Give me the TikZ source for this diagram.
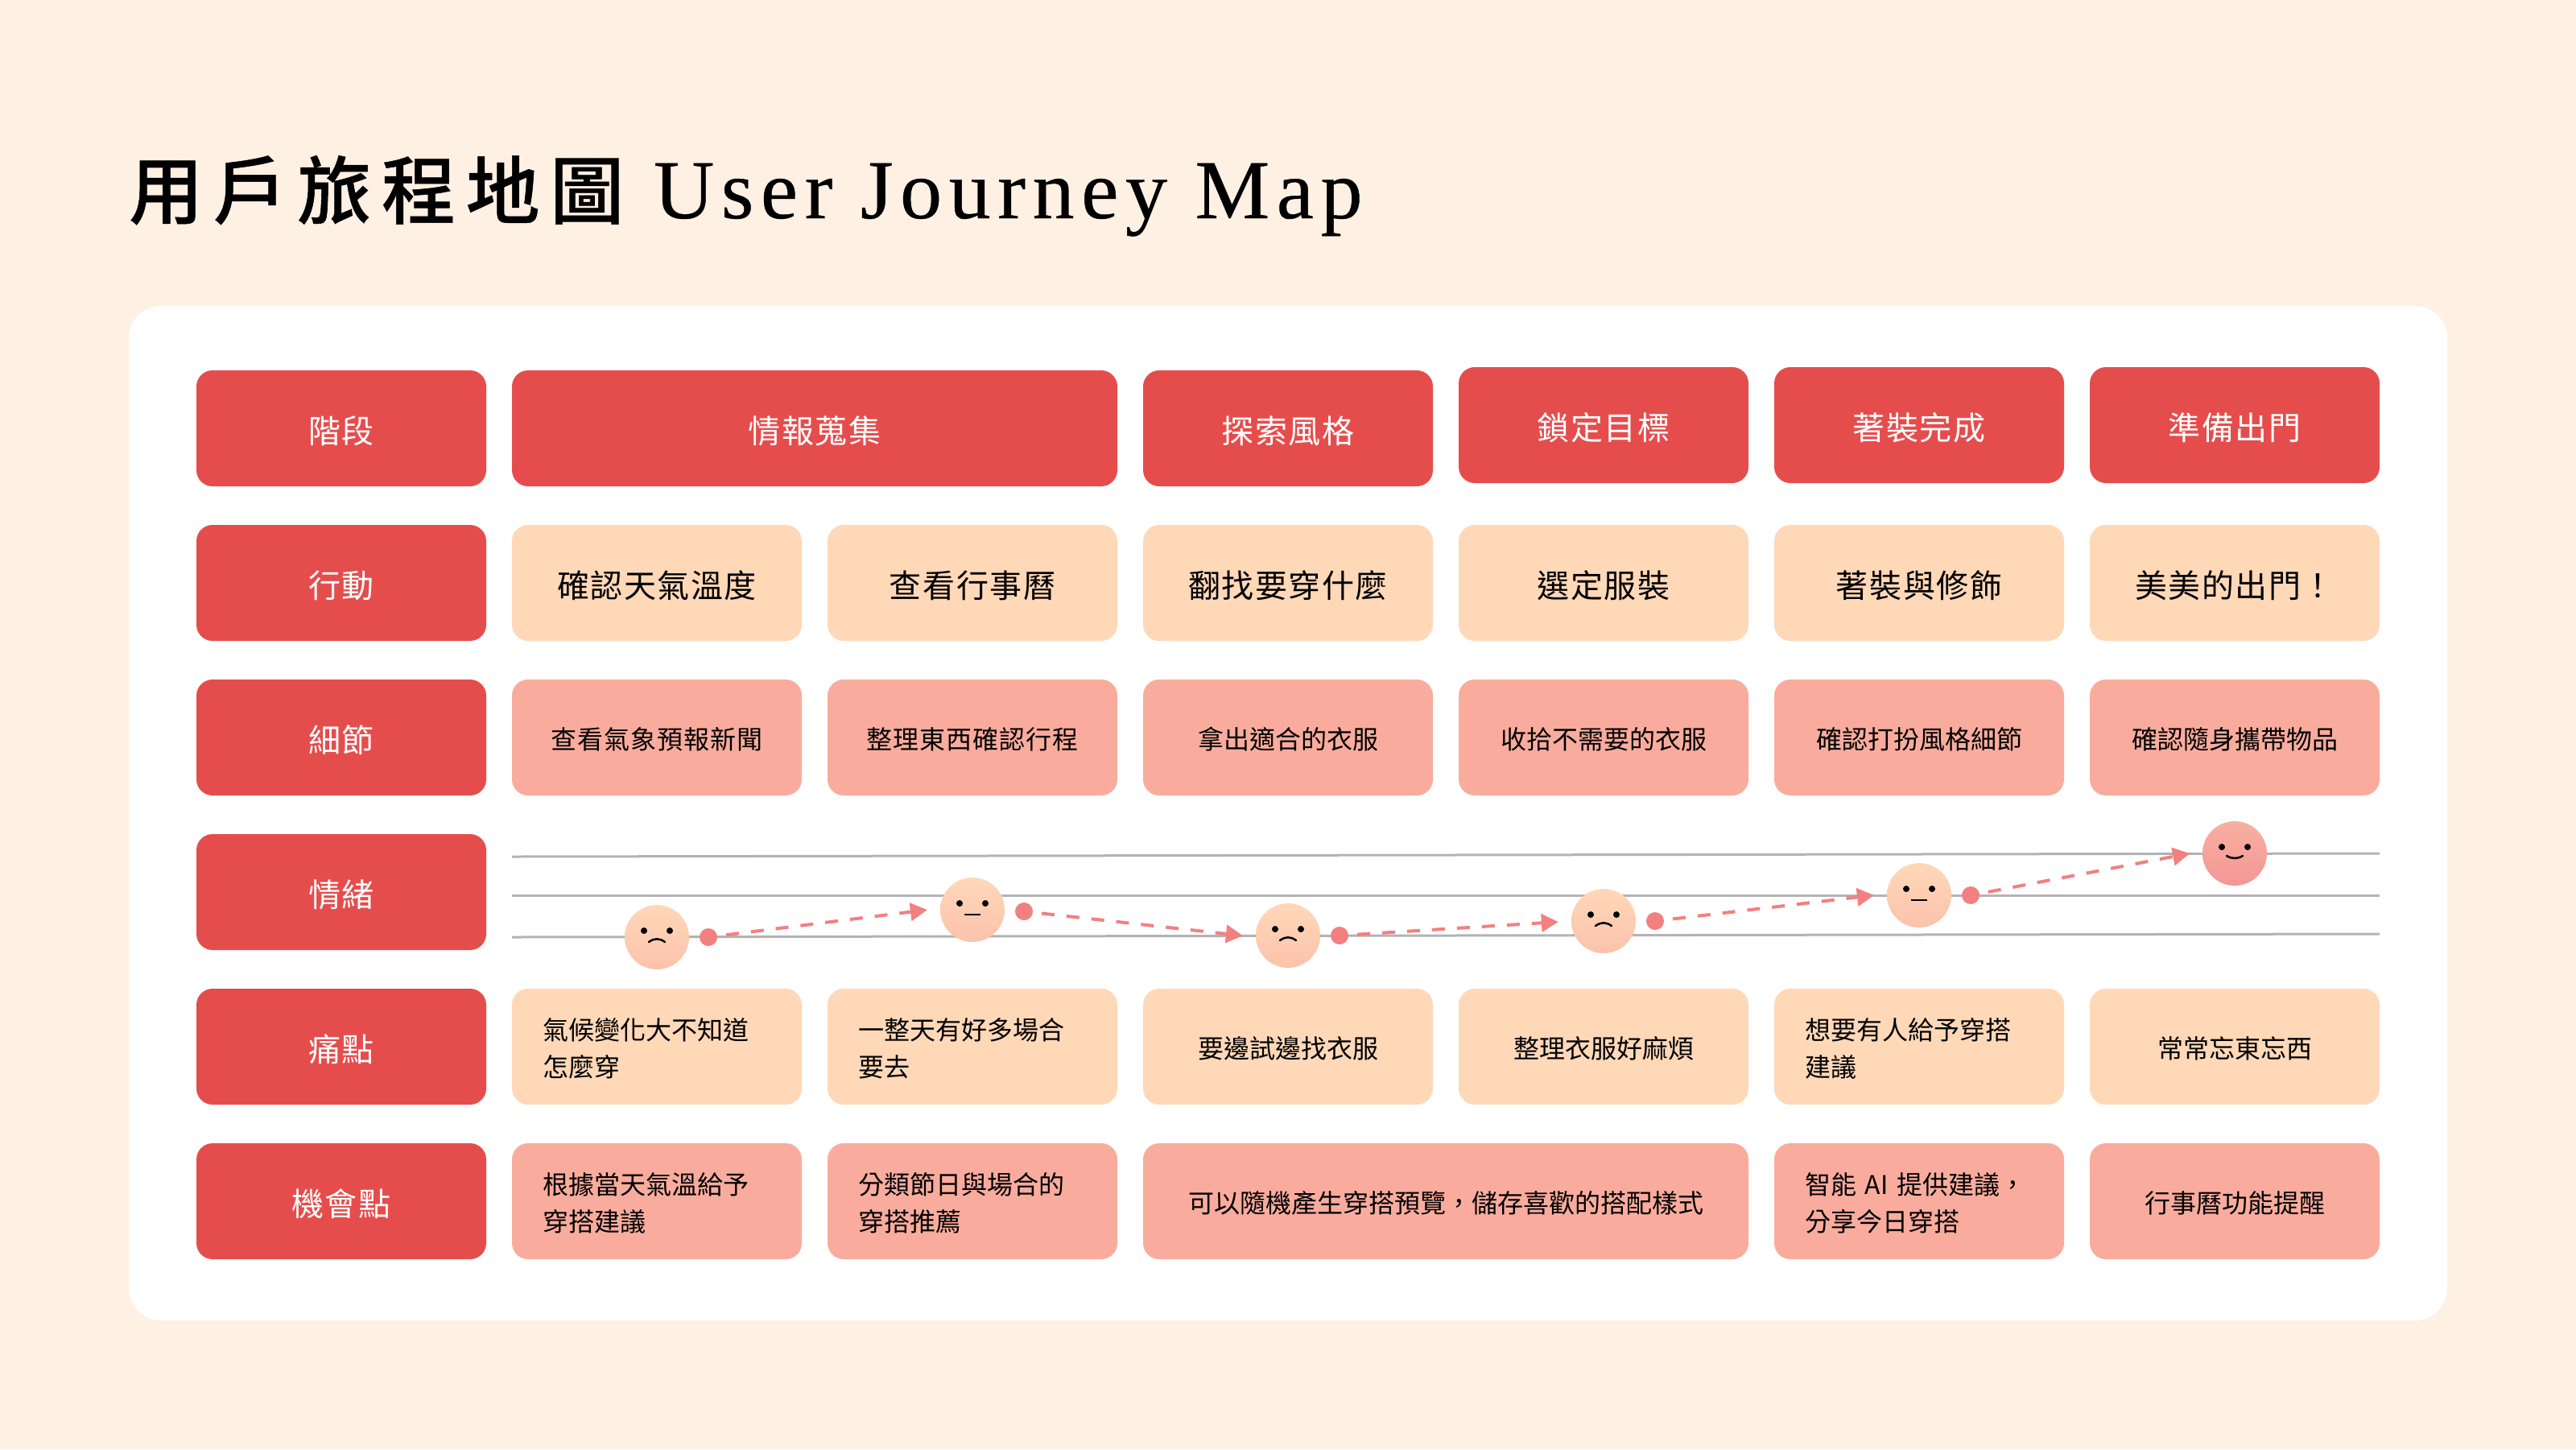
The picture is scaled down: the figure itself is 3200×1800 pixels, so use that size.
\documentclass[tikz,border=0pt]{standalone}
\usepackage{fontspec}
\usetikzlibrary{arrows.meta,shapes.geometric}
\setmainfont{Noto Sans CJK TC}
\newfontfamily\titlecjk[LetterSpace=13.7,FakeBold=0.6]{Noto Sans CJK TC Medium}
\newfontfamily\titlelat[LetterSpace=8.3,FakeBold=0.4]{Liberation Serif}
\newfontfamily\wideA[LetterSpace=4]{Noto Sans CJK TC}
\newfontfamily\wideB[LetterSpace=3.3]{Noto Sans CJK TC}
\definecolor{pagebg}{HTML}{FFF0E4}
\definecolor{redbox}{HTML}{E54D4D}
\definecolor{peach}{HTML}{FFD8B8}
\definecolor{salmon}{HTML}{F9AC9D}
\definecolor{coral}{HTML}{F28080}
\definecolor{rule}{HTML}{B3B3B3}
\definecolor{facelow}{HTML}{FCC2AC}
\definecolor{happytop}{HTML}{F8B0A0}
\definecolor{happylow}{HTML}{F49696}
\newcommand{\strutL}{\rule[-8pt]{0pt}{52pt}}
\newcommand{\strutS}{\rule[-7pt]{0pt}{42pt}}
\tikzset{
  cell/.style={rectangle,rounded corners=20pt,minimum width=360pt,minimum height=144pt,inner sep=0pt,align=center,text width=360pt,
    execute at begin node=\strutS,execute at end node=\strutS},
  wide/.style={minimum width=752pt,text width=752pt},
  large/.style={font=\wideA\fontsize{40}{46}\selectfont,execute at begin node=\strutL,execute at end node=\strutL},
  head/.style={rectangle,rounded corners=20pt,minimum width=360pt,minimum height=144pt,inner sep=0pt,align=center,text width=360pt,fill=redbox,text=white,large},
  act/.style={rectangle,rounded corners=20pt,minimum width=360pt,minimum height=144pt,inner sep=0pt,align=center,text width=360pt,fill=peach,text=black,large},
  detail/.style={cell,fill=salmon,text=black,font=\fontsize{32}{46}\selectfont},
  detailw/.style={detail,font=\wideB\fontsize{32}{46}\selectfont},
  pain/.style={cell,fill=peach,text=black,font=\fontsize{32}{46}\selectfont},
  opp/.style={cell,fill=salmon,text=black,font=\fontsize{32}{46}\selectfont},
  two/.style={align=left,text width=284pt,inner xsep=38pt},
  face/.style={circle,minimum size=80pt,inner sep=0pt,top color=peach,bottom color=facelow,draw=none},
  happy/.style={circle,minimum size=80pt,inner sep=0pt,top color=happytop,bottom color=happylow,draw=none},
  dotm/.style={circle,minimum size=22pt,inner sep=0pt,fill=coral},
  eye/.style={fill=black},
  mouth/.style={draw=black,line width=2.5pt,line cap=round},
  guide/.style={draw=rule,line width=3pt},
  flow/.style={draw=coral,line width=4pt,dash pattern=on 16pt off 15pt,shorten <=11pt,shorten >=16pt,
    -{Triangle[length=21pt,width=22pt,fill=coral]}},
}
\begin{document}
\begin{tikzpicture}[x=1pt,y=-1pt]
\useasboundingbox (0,0) rectangle (3200,1800);
\fill[pagebg] (0,0) rectangle (3200,1800);
\node[anchor=base west,inner sep=0pt] (title) at (160,271)
  {\fontsize{92}{100}\selectfont\titlecjk 用戶旅程地圖\hspace{37pt}\fontsize{104}{110}\selectfont\titlelat User Journey Map};
\fill[white,rounded corners=40pt] (160,380) rectangle (3040,1640);

% stage row
\node[head] (lab0) at (424,532) {階段};
\node[head,wide] (s1) at (1012,532) {情報蒐集};
\node[head] (s2) at (1600,532) {探索風格};
\node[head] (s3) at (1992,528) {鎖定目標};
\node[head] (s4) at (2384,528) {著裝完成};
\node[head] (s5) at (2776,528) {準備出門};
% action row
\node[head] (lab1) at (424,724) {行動};
\node[act] (a1) at (816,724) {確認天氣溫度};
\node[act] (a2) at (1208,724) {查看行事曆};
\node[act] (a3) at (1600,724) {翻找要穿什麼};
\node[act] (a4) at (1992,724) {選定服裝};
\node[act] (a5) at (2384,724) {著裝與修飾};
\node[act] (a6) at (2776,724) {美美的出門！};
% detail row
\node[head] (lab2) at (424,916) {細節};
\node[detailw] (d1) at (816,916) {查看氣象預報新聞};
\node[detailw] (d2) at (1208,916) {整理東西確認行程};
\node[detail] (d3) at (1600,916) {拿出適合的衣服};
\node[detail] (d4) at (1992,916) {收拾不需要的衣服};
\node[detail] (d5) at (2384,916) {確認打扮風格細節};
\node[detail] (d6) at (2776,916) {確認隨身攜帶物品};
% emotion row
\node[head] (lab3) at (424,1108) {情緒};
\draw[guide] (636,1064) -- (2956,1060);
\draw[guide] (636,1112) -- (2956,1112);
\draw[guide] (636,1164) -- (2956,1160);

\node[face] (f1) at (816,1164) {};
\node[face] (f2) at (1208,1130) {};
\node[face] (f3) at (1600,1162) {};
\node[face] (f4) at (1992,1144) {};
\node[face] (f5) at (2384,1112) {};
\node[happy] (f6) at (2776,1060) {};
\node[dotm] (p1) at (880,1164) {};
\node[dotm] (p2) at (1272,1132) {};
\node[dotm] (p3) at (1664,1162) {};
\node[dotm] (p4) at (2056,1144) {};
\node[dotm] (p5) at (2448,1112) {};

\draw[flow] (p1) -- ([yshift=2pt]f2.west);
\draw[flow] (p2) -- ([yshift=-2pt]f3.west);
\draw[flow] (p3) -- (f4.west);
\draw[flow] (p4) -- ([yshift=2pt]f5.west);
\draw[flow] (p5) -- ([yshift=3pt]f6.west);

% faces: eyes and mouths
\foreach \cx/\cy in {816/1164,1600/1162,1992/1144}{
  \fill[eye] (\cx-16,\cy-8) circle (4pt);
  \fill[eye] (\cx+16,\cy-8) circle (4pt);
  \draw[mouth] (\cx-10,\cy+6) .. controls (\cx-3,\cy+1) and (\cx+3,\cy+1) .. (\cx+10,\cy+6);
}
\foreach \cx/\cy in {1208/1130,2384/1112}{
  \fill[eye] (\cx-16,\cy-8) circle (4pt);
  \fill[eye] (\cx+16,\cy-8) circle (4pt);
  \draw[mouth,line cap=butt] (\cx-10,\cy+6) -- (\cx+10,\cy+6);
}
\fill[eye] (2760,1052) circle (4pt);
\fill[eye] (2792,1052) circle (4pt);
\draw[mouth] (2766,1063) .. controls (2773,1067) and (2779,1067) .. (2786,1063);

% pain row
\node[head] (lab4) at (424,1300) {痛點};
\node[pain,two] (n1) at (816,1300) {氣候變化大不知道\\怎麼穿};
\node[pain,two] (n2) at (1208,1300) {一整天有好多場合\\要去};
\node[pain] (n3) at (1600,1300) {要邊試邊找衣服};
\node[pain] (n4) at (1992,1300) {整理衣服好麻煩};
\node[pain,two] (n5) at (2384,1300) {想要有人給予穿搭\\建議};
\node[pain] (n6) at (2776,1300) {常常忘東忘西};
% opportunity row
\node[head] (lab5) at (424,1492) {機會點};
\node[opp,two] (o1) at (816,1492) {根據當天氣溫給予\\穿搭建議};
\node[opp,two] (o2) at (1208,1492) {分類節日與場合的\\穿搭推薦};
\node[opp,wide] (o3) at (1796,1492) {可以隨機產生穿搭預覽，儲存喜歡的搭配樣式};
\node[opp,two] (o4) at (2384,1492) {智能 AI 提供建議，\\分享今日穿搭};
\node[opp] (o5) at (2776,1492) {行事曆功能提醒};
\end{tikzpicture}
\end{document}
